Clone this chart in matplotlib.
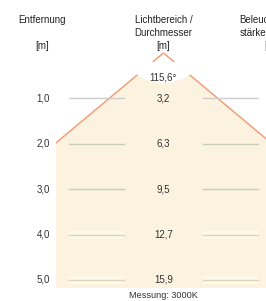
import numpy as np
import matplotlib
matplotlib.use("Agg")
import matplotlib.pyplot as plt
from matplotlib.patches import Polygon, Ellipse, Rectangle

# ---- data ----
distances = [1.0, 2.0, 3.0, 4.0, 5.0]
distance_labels = ["1,0", "2,0", "3,0", "4,0", "5,0"]
diameters = [3.2, 6.3, 9.5, 12.7, 15.9]
diameter_labels = ["3,2", "6,3", "9,5", "12,7", "15,9"]
beam_angle = 115.6
angle_label = "115,6°"
header_left = ["Entfernung", "[m]"]
header_mid = ["Lichtbereich /", "Durchmesser", "[m]"]
header_right = ["Beleuchtungs-", "stärke", "[lx]"]
footer = "Messung: 3000K"

# ---- layout (pixel based) ----
W, H = 266, 301
PXM_X, PXM_Y = 34.2, 45.4      # pixels per metre
APEX_PX = (163.5, 53.0)

def dx(px):
    return (px - APEX_PX[0]) / PXM_X

def dy(py):
    return (py - APEX_PX[1]) / PXM_Y

plt.rcParams['font.family'] = ['Liberation Sans', 'DejaVu Sans']
fig = plt.figure(figsize=(W / 100, H / 100), dpi=100)
ax = fig.add_axes([0, 0, 1, 1])
ax.set_xlim(dx(0), dx(W))
ax.set_ylim(dy(H), dy(0))
ax.axis('off')

cream = '#FBF3DF'
cone_col = '#F2A07A'
txt_col = '#333333'

half = np.tan(np.radians(beam_angle / 2))
d_end = dy(288)
x_clip = -diameters[1] / 2

# cone fill
poly = Polygon([(0, 0), (-half * d_end, d_end), (half * d_end, d_end)],
               closed=True, facecolor=cream, edgecolor='none', zorder=1)
ax.add_patch(poly)
clip = Rectangle((x_clip, dy(0)), dx(W + 50) - x_clip, d_end - dy(0),
                 transform=ax.transData, facecolor='none', edgecolor='none')
ax.add_patch(clip)
poly.set_clip_path(clip)

# cone edges
for s in (-1, 1):
    ln, = ax.plot([0, s * half * d_end], [0, d_end], color=cone_col, lw=1.1,
                  zorder=2, solid_capstyle='butt')
    ln.set_clip_path(clip)

# white cut-out around apex for the angle label
ax.add_patch(Ellipse((0, 0), 2 * 38 / PXM_X, 2 * 30 / PXM_Y,
                     facecolor='white', edgecolor='none', zorder=3))
t_chev = 14 / np.hypot(half * PXM_X, PXM_Y)
for s in (-1, 1):
    ax.plot([0, s * half * t_chev], [0, t_chev], color=cone_col, lw=1.1,
            zorder=4, solid_capstyle='butt')

# row guide lines
row_cols = ['#cccccc', '#c7ceb2', '#c7ceb2', '#dcd3b2', '#dcd3b2']
xl0, xl1 = dx(69), dx(124)
xr0, xr1 = dx(203), dx(258)
for i, d in enumerate(distances):
    if i >= 3:
        for a, b in ((xl0, xl1), (xr0, xr1)):
            ax.add_patch(Rectangle((a, d - 4 / PXM_Y), b - a, 8 / PXM_Y,
                                   facecolor='#FEF9EA', edgecolor='none', zorder=4))
    ax.plot([xl0, xl1], [d, d], color=row_cols[i], lw=1.0, zorder=5)
    ax.plot([xr0, xr1], [d, d], color=row_cols[i], lw=1.0, zorder=5)
    ax.text(dx(50), d, distance_labels[i], ha='right', va='center',
            fontsize=7, color=txt_col, zorder=6)
    ax.text(0, d, diameter_labels[i], ha='center', va='center',
            fontsize=7, color=txt_col, zorder=6)

ax.text(0, dy(77), angle_label, ha='center', va='center', fontsize=7,
        color=txt_col, zorder=6)

# headers
ys = [20, 33, 46]
ax.text(dx(42), dy(ys[0]), header_left[0], ha='center', va='center',
        fontsize=7, color='#222222')
ax.text(dx(42), dy(ys[2]), header_left[1], ha='center', va='center',
        fontsize=7, color='#222222')
for t, y in zip(header_mid, ys):
    ax.text(0, dy(y), t, ha='center', va='center', fontsize=7, color='#222222')
for t, y, x in zip(header_right, ys, [239, 240, 264]):
    ax.text(dx(x), dy(y), t, ha='left', va='center', fontsize=7, color='#222222')

ax.text(0, dy(296), footer, ha='center', va='center', fontsize=6.6,
        color=txt_col)

fig.savefig('out.png', dpi=100)
